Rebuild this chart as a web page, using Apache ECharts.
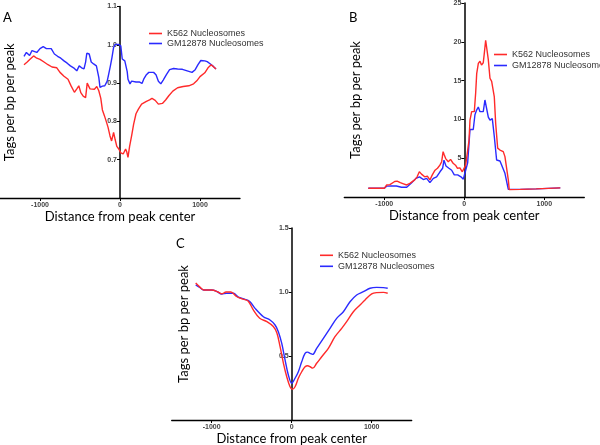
<!DOCTYPE html>
<html>
<head>
<meta charset="utf-8">
<script src="https://cdn.jsdelivr.net/npm/echarts@6/dist/echarts.min.js"></script>
<style>html,body{margin:0;padding:0;background:#fff}#c{width:600px;height:445px}</style>
</head>
<body>
<div id="c"></div>
<script>
// ---- Data ----
const SERIES_NAMES = ['K562 Nucleosomes', 'GM12878 Nucleosomes'];
const X_TICKS = [-1000, 0, 1000];
const PANEL_LABELS = ['A', 'B', 'C'];

// Panel A
const A_K562_X = [-1200,-1160,-1125,-1080,-1040,-1000,-950,-900,-850,-790,-750,-700,-650,-610,-570,-540,-515,-490,-460,-430,-410,-395,-375,-350,-320,-290,-265,-240,-220,-195,-175,-150,-125,-105,-80,-60,-40,-15,10,40,70,85,100,120,145,170,200,230,270,330,370,400,440,480,530,570,610,660,720,790,860,920,960,1000,1060,1100,1140,1160,1200];
const A_K562_Y = [0.948,0.955,0.962,0.971,0.965,0.962,0.955,0.948,0.942,0.940,0.928,0.918,0.910,0.892,0.876,0.885,0.893,0.875,0.866,0.862,0.900,0.902,0.885,0.889,0.884,0.891,0.880,0.860,0.830,0.815,0.802,0.785,0.762,0.749,0.771,0.752,0.735,0.728,0.718,0.715,0.728,0.720,0.706,0.735,0.762,0.792,0.820,0.832,0.845,0.852,0.856,0.860,0.855,0.845,0.847,0.856,0.867,0.879,0.888,0.891,0.893,0.898,0.906,0.917,0.927,0.940,0.948,0.946,0.937];
const A_GM_X = [-1200,-1170,-1130,-1100,-1075,-1040,-1000,-960,-920,-860,-820,-780,-740,-700,-660,-620,-580,-540,-510,-480,-450,-430,-415,-385,-360,-330,-295,-265,-250,-220,-190,-160,-140,-120,-100,-80,-60,-20,10,28,60,90,100,125,145,170,200,240,275,300,330,360,420,450,480,510,540,580,620,670,720,780,840,900,940,975,1010,1060,1090,1130,1170,1200];
const A_GM_Y = [0.970,0.980,0.972,0.985,0.988,0.980,0.990,0.995,0.990,0.990,0.976,0.970,0.965,0.958,0.952,0.945,0.940,0.932,0.945,0.940,0.937,0.955,0.978,0.976,0.955,0.950,0.945,0.915,0.889,0.892,0.893,0.905,0.925,0.945,0.967,0.993,1.001,1.001,0.997,0.963,0.958,0.930,0.910,0.898,0.905,0.906,0.903,0.903,0.899,0.912,0.922,0.928,0.928,0.922,0.905,0.898,0.908,0.922,0.935,0.938,0.937,0.936,0.932,0.928,0.935,0.948,0.959,0.958,0.956,0.950,0.943,0.937];

// Panel B
const B_K562_X = [-1200,-1000,-990,-970,-930,-870,-840,-800,-760,-720,-680,-620,-590,-562,-535,-495,-462,-430,-400,-366,-335,-305,-283,-265,-250,-233,-200,-172,-140,-110,-85,-55,-25,0,17,42,59,71,92,125,142,155,175,196,215,237,250,267,283,300,321,342,356,375,392,417,446,487,508,550,562,700,900,1200];
const B_K562_Y = [1.12,1.12,1.3,1.55,1.6,2.0,2.05,1.85,1.7,1.55,1.75,2.2,2.6,3.25,2.95,2.6,2.7,2.2,2.85,3.45,3.7,4.1,4.55,5.85,5.4,4.95,4.55,4.85,4.35,4.1,3.7,3.75,3.25,3.45,4.1,4.2,7.3,9.9,11.0,11.0,13.4,15.9,17.2,17.5,17.0,17.3,18.5,20.2,20.0,17.7,15.3,14.9,15.1,12.9,9.5,6.3,6.05,5.85,5.2,2.2,0.95,0.98,1.05,1.18];
const B_GM_X = [-1200,-1000,-970,-910,-850,-785,-720,-700,-658,-604,-560,-512,-471,-430,-387,-346,-304,-271,-254,-229,-192,-158,-125,-83,-42,-12,8,42,71,112,133,154,175,196,237,258,279,300,321,350,375,404,446,467,508,550,562,700,900,1200];
const B_GM_Y = [1.12,1.12,1.4,1.42,1.42,1.25,1.25,1.4,1.85,2.4,2.6,2.25,2.4,1.85,2.4,2.6,3.25,3.7,4.75,4.0,3.7,3.45,2.85,2.85,2.6,2.3,3.1,4.4,8.7,8.7,10.6,11.2,11.6,11.0,11.0,12.5,12.5,10.3,9.9,10.1,7.8,4.77,4.64,4.55,3.05,0.99,0.95,0.98,1.05,1.18];

// Panel C
const C_K562_X = [-1200,-1150,-1100,-1000,-920,-875,-820,-760,-690,-610,-545,-480,-400,-310,-230,-185,-146,-104,-62,-21,8,42,83,125,167,200,230,262,312,375,458,541,625,687,771,854,917,1000,1062,1146,1200];
const C_K562_Y = [1.07,1.04,1.016,1.016,1.0,0.985,1.0,1.0,0.965,0.945,0.93,0.86,0.795,0.768,0.73,0.68,0.575,0.445,0.338,0.26,0.24,0.26,0.326,0.377,0.416,0.424,0.416,0.405,0.443,0.494,0.56,0.651,0.716,0.768,0.846,0.898,0.938,0.985,0.995,0.997,0.99];
const C_GM_X = [-1200,-1150,-1100,-1000,-938,-875,-812,-729,-667,-583,-521,-458,-354,-271,-208,-167,-125,-83,-42,0,42,83,125,167,200,230,262,312,396,479,562,646,729,812,896,979,1062,1146,1200];
const C_GM_Y = [1.055,1.035,1.016,1.016,1.005,0.984,0.99,0.99,0.96,0.943,0.924,0.872,0.807,0.781,0.742,0.69,0.6,0.47,0.352,0.287,0.326,0.377,0.455,0.521,0.53,0.521,0.513,0.56,0.638,0.716,0.794,0.846,0.924,0.977,1.002,1.029,1.036,1.034,1.029];

// ---- Chart ----
const RED = '#ff2a2a', BLUE = '#2a2aff';
const pairs = (xs, ys) => xs.map((x, i) => [x, ys[i]]);
const chart = echarts.init(document.getElementById('c'), null, {renderer: 'canvas'});

const grids = [
  {left: 0, top: 6.5, width: 240, height: 191.5, outerBoundsMode: 'none', containLabel: false},
  {left: 344.3, top: 3, width: 240, height: 194, outerBoundsMode: 'none', containLabel: false},
  {left: 171.7, top: 228, width: 240, height: 192, outerBoundsMode: 'none', containLabel: false}
];
const tickFont = {fontSize: 7, fontWeight: 'bold', color: '#444', fontFamily: 'Liberation Sans'};
const titleFont = {fontSize: 13, color: '#000', fontFamily: 'Lato'};

function mkX(i, gap) {
  return {
    gridIndex: i, type: 'value', min: -1500, max: 1500, interval: 500,
    axisLine: {show: true, onZero: false, lineStyle: {color: '#000', width: 1.3}},
    axisTick: {show: true, customValues: X_TICKS, length: 3, lineStyle: {color: '#000', width: 1}},
    axisLabel: Object.assign({customValues: X_TICKS, margin: 4, formatter: v => String(v)}, tickFont),
    splitLine: {show: false},
    name: 'Distance from peak center', nameLocation: 'middle', nameGap: gap,
    nameTextStyle: titleFont
  };
}
// y axis sits at x = 0, i.e. the horizontal middle of each 240px-wide grid
function mkY(i, min, max, interval, dec, gap) {
  return {
    gridIndex: i, type: 'value', min: min, max: max, interval: interval,
    position: 'left', offset: -120,
    axisLine: {show: true, onZero: false, lineStyle: {color: '#000', width: 1.5}},
    axisTick: {show: true, length: 3, lineStyle: {color: '#000', width: 1}},
    axisLabel: Object.assign({showMinLabel: false, margin: 3, formatter: v => v.toFixed(dec)}, tickFont),
    splitLine: {show: false},
    name: 'Tags per bp per peak', nameLocation: 'middle', nameGap: gap,
    nameTextStyle: titleFont
  };
}
function mkLegend(left, top, gap) {
  return {
    left: left, top: top, orient: 'vertical', data: SERIES_NAMES, padding: 0,
    icon: 'rect', itemWidth: 13, itemHeight: 1.6, itemGap: gap,
    textStyle: {fontSize: 9, lineHeight: 9, color: '#333', fontFamily: 'Liberation Sans'}
  };
}
function mkLine(name, idx, data, color, smooth) {
  return {
    name: name, type: 'line', xAxisIndex: idx, yAxisIndex: idx, data: data,
    showSymbol: false, symbol: 'none', smooth: smooth, color: color,
    lineStyle: {color: color, width: 1.4}
  };
}

const option = {
  animation: false,
  backgroundColor: '#fff',
  grid: grids,
  xAxis: [mkX(0, 10), mkX(1, 10), mkX(2, 9)],
  yAxis: [mkY(0, 0.6, 1.1, 0.1, 1, 104), mkY(1, 0, 25, 5, 0, 102), mkY(2, 0, 1.5, 0.5, 1, 101)],
  legend: [mkLegend(149, 29, 1), mkLegend(494, 50, 2), mkLegend(320, 250.8, 2)],
  graphic: [
    {type: 'text', left: 3, top: 11, style: {text: PANEL_LABELS[0], fontSize: 13, fill: '#000', fontFamily: 'Lato'}},
    {type: 'text', left: 349, top: 11, style: {text: PANEL_LABELS[1], fontSize: 13, fill: '#000', fontFamily: 'Lato'}},
    {type: 'text', left: 176, top: 237, style: {text: PANEL_LABELS[2], fontSize: 13, fill: '#000', fontFamily: 'Lato'}}
  ],
  series: [
    mkLine(SERIES_NAMES[1], 0, pairs(A_GM_X, A_GM_Y), BLUE, false),
    mkLine(SERIES_NAMES[0], 0, pairs(A_K562_X, A_K562_Y), RED, false),
    mkLine(SERIES_NAMES[1], 1, pairs(B_GM_X, B_GM_Y), BLUE, false),
    mkLine(SERIES_NAMES[0], 1, pairs(B_K562_X, B_K562_Y), RED, false),
    mkLine(SERIES_NAMES[1], 2, pairs(C_GM_X, C_GM_Y), BLUE, 0.35),
    mkLine(SERIES_NAMES[0], 2, pairs(C_K562_X, C_K562_Y), RED, 0.35)
  ]
};
chart.setOption(option);
</script>
</body>
</html>
